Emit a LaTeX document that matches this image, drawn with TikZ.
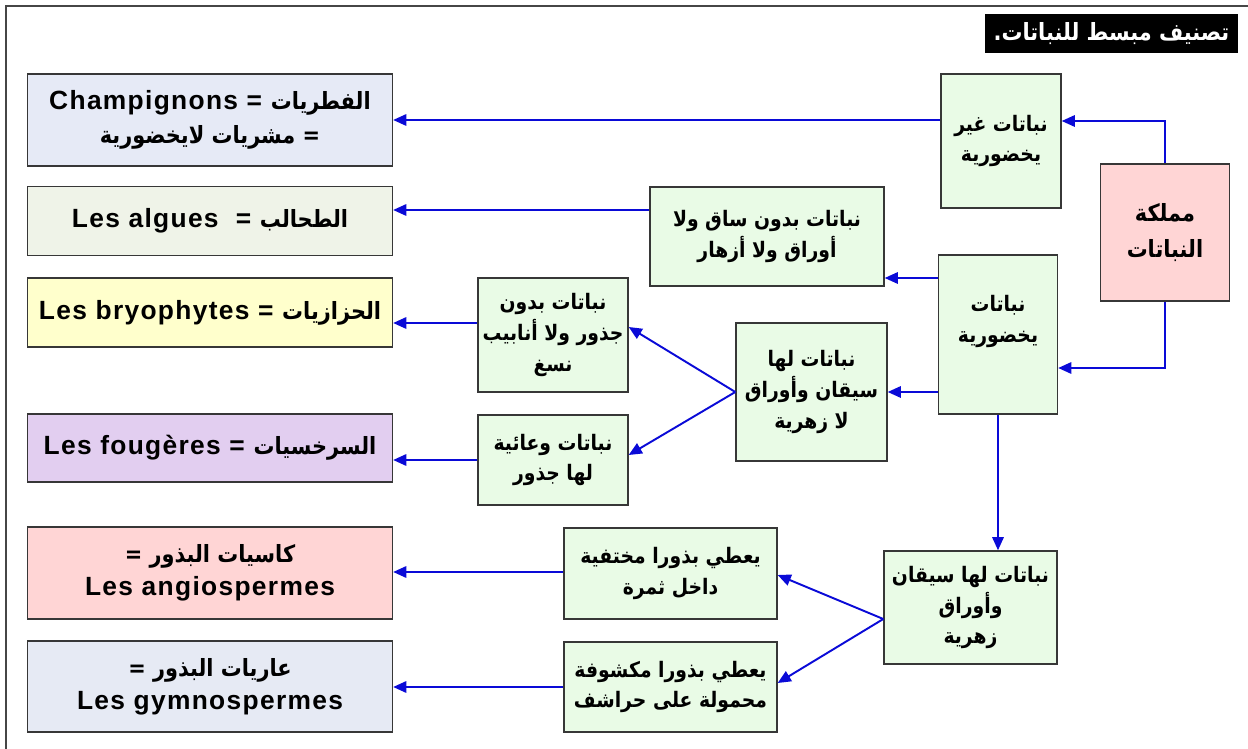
\documentclass[tikz,border=0pt]{standalone}
\usepackage{fontspec}
\setmainfont{Liberation Sans}[LetterSpace=5]
\newfontfamily\arabicfont[Script=Arabic,Scale=0.9,FakeStretch=0.88]{DejaVu Sans}
\TeXXeTstate=1
\usetikzlibrary{arrows.meta}

\definecolor{plArrow}{RGB}{10,10,215}
\definecolor{plEdge}{RGB}{55,55,55}
\definecolor{plFrame}{RGB}{70,70,70}
\definecolor{plGreen}{RGB}{233,251,230}
\definecolor{plPink}{RGB}{255,213,213}
\definecolor{plChamp}{RGB}{230,234,246}
\definecolor{plAlgue}{RGB}{239,243,232}
\definecolor{plMoss}{RGB}{255,255,204}
\definecolor{plFern}{RGB}{226,206,240}
\definecolor{plGymno}{RGB}{230,234,244}

\newcommand{\artxt}[1]{{\arabicfont\beginR #1\endR}}

\def\plLeftWidth{7.3cm}
\def\plLeftX{210}

\tikzset{
    plbox/.style = {draw = plEdge, line width = 0.8pt, align = center,
        inner sep = 2pt, font = {\bfseries\fontsize{15}{19}\selectfont}},
    plmid/.style = {plbox, fill = plGreen,
        font = {\bfseries\fontsize{13.5}{17.5}\selectfont}},
    plarrow/.style = {draw = plArrow, line width = 1.1pt,
        -{Triangle[length = 7.5pt, width = 6.5pt]}},
}

\begin{document}
\begin{tikzpicture}[x = 0.02cm, y = -0.02cm]
    \useasboundingbox (0,0) rectangle (1248,749);
    %% frame
    \draw [plFrame, line width = 1.1pt]
    (6,749) -- (6,6) -- (1248,6)
    ;
    %% title
    \node [fill = black, text = white, minimum width = 5.06cm,
        minimum height = 0.78cm, inner sep = 0pt,
        font = {\bfseries\fontsize{15}{18}\selectfont}]
    (title) at (1111.5,33.5) {\artxt{تصنيف مبسط للنباتات.}};
    %% groups on the left
    \node [plbox, fill = plChamp, minimum width = \plLeftWidth, minimum height = 1.84cm]
    (champ) at (\plLeftX,120)
    {Champignons = \artxt{الفطريات}\\\artxt{= مشريات لايخضورية}};
    \node [plbox, fill = plAlgue, minimum width = \plLeftWidth, minimum height = 1.38cm]
    (algues) at (\plLeftX,221) {Les algues\ \ = \artxt{الطحالب}};
    \node [plbox, fill = plMoss, minimum width = \plLeftWidth, minimum height = 1.38cm]
    (bryo) at (\plLeftX,312.5) {Les bryophytes = \artxt{الحزازيات}};
    \node [plbox, fill = plFern, minimum width = \plLeftWidth, minimum height = 1.36cm]
    (fern) at (\plLeftX,448) {Les fougères = \artxt{السرخسيات}};
    \node [plbox, fill = plPink, minimum width = \plLeftWidth, minimum height = 1.84cm]
    (angio) at (\plLeftX,573) {\artxt{كاسيات البذور =}\\Les angiospermes};
    \node [plbox, fill = plGymno, minimum width = \plLeftWidth, minimum height = 1.82cm]
    (gymno) at (\plLeftX,686.5) {\artxt{عاريات البذور =}\\Les gymnospermes};
    %% criteria
    \node [plmid, fill = plPink, minimum width = 2.58cm, minimum height = 2.74cm,
        font = {\bfseries\fontsize{15}{21}\selectfont}]
    (kingdom) at (1165,232.5) {\artxt{مملكة}\\\artxt{النباتات}};
    \node [plmid, minimum width = 2.4cm, minimum height = 2.68cm]
    (nonGreen) at (1001,141) {\artxt{نباتات غير}\\\artxt{يخضورية}};
    \node [plmid, minimum width = 2.38cm, minimum height = 3.18cm]
    (green) at (998,334.5) {\artxt{نباتات}\\\artxt{يخضورية}\\~};
    \node [plmid, minimum width = 4.68cm, minimum height = 1.98cm]
    (noStem) at (767,236.5) {\artxt{نباتات بدون ساق ولا}\\\artxt{أوراق ولا أزهار}};
    \node [plmid, minimum width = 3.02cm, minimum height = 2.76cm]
    (noFlower) at (811.5,392) {\artxt{نباتات لها}\\\artxt{سيقان وأوراق}\\\artxt{لا زهرية}};
    \node [plmid, minimum width = 3cm, minimum height = 2.28cm]
    (noRoot) at (553,335) {\artxt{نباتات بدون}\\\artxt{جذور ولا أنابيب}\\\artxt{نسغ}};
    \node [plmid, minimum width = 3cm, minimum height = 1.8cm]
    (vascular) at (553,460) {\artxt{نباتات وعائية}\\\artxt{لها جذور}};
    \node [plmid, minimum width = 3.46cm, minimum height = 2.26cm]
    (flower) at (970.5,607.5) {\artxt{نباتات لها سيقان}\\\artxt{وأوراق}\\\artxt{زهرية}};
    \node [plmid, minimum width = 4.26cm, minimum height = 1.82cm]
    (hidden) at (670.5,573.5) {\artxt{يعطي بذورا مختفية}\\\artxt{داخل ثمرة}};
    \node [plmid, minimum width = 4.26cm, minimum height = 1.8cm]
    (naked) at (670.5,687) {\artxt{يعطي بذورا مكشوفة}\\\artxt{محمولة على حراشف}};
    %% links
    \draw [plarrow] (kingdom.north) |- (nonGreen.east |- 0,121);
    \draw [plarrow] (kingdom.south) |- (green.east |- 0,368);
    \draw [plarrow] (nonGreen.west |- 0,120) -- (champ.east |- 0,120);
    \draw [plarrow] (green.west |- 0,278) -- (noStem.east |- 0,278);
    \draw [plarrow] (green.west |- noFlower) -- (noFlower.east);
    \draw [plarrow] (noStem.west |- 0,210) -- (algues.east |- 0,210);
    \draw [plarrow] (green.south) -- (green.south |- flower.north);
    \draw [plarrow] (noFlower.west) -- (noRoot.east |- 0,327);
    \draw [plarrow] (noFlower.west) -- (vascular.east |- 0,455);
    \draw [plarrow] (noRoot.west |- 0,323) -- (bryo.east |- 0,323);
    \draw [plarrow] (vascular.west) -- (fern.east |- vascular);
    \draw [plarrow] (flower.west |- 0,619) -- (hidden.east |- 0,575);
    \draw [plarrow] (flower.west |- 0,619) -- (naked.east |- 0,683);
    \draw [plarrow] (hidden.west |- 0,572) -- (angio.east |- 0,572);
    \draw [plarrow] (naked.west |- 0,687) -- (gymno.east |- 0,687);
\end{tikzpicture}
\end{document}
